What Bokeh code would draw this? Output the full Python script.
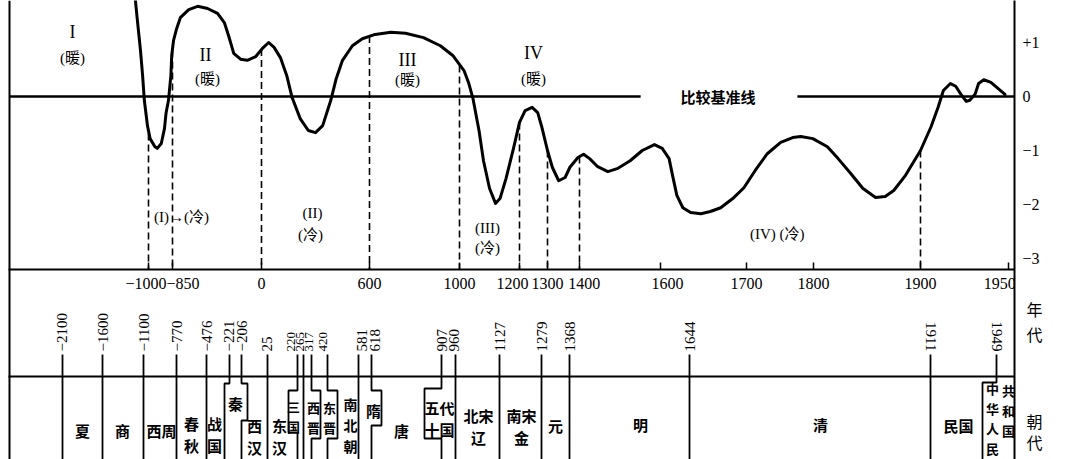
import numpy as np
from bokeh.plotting import figure
from bokeh.models import Range1d, LinearAxis, FixedTicker, CustomJSTickFormatter, ColumnDataSource
from bokeh.core.properties import value
from bokeh.embed import file_html
from bokeh.resources import INLINE

# ---------------- data: temperature anomaly curve (year, deg C) ----------------
YEARS = [-1200, -1160, -1115, -1085, -1060, -1015, -990, -960, -945, -920, -900, -890, -875, -860, -855,
         -840, -810, -775, -695, -610, -515, -420, -355, -315, -265, -200, -135, -55, 5, 40, 70, 105,
         140, 170, 215, 260, 300, 340, 385, 415, 450, 505, 560, 625, 695, 760, 840, 915, 970, 1015,
         1030, 1045, 1065, 1080, 1100, 1120, 1135, 1155, 1180, 1200, 1220, 1245, 1265, 1280, 1300,
         1315, 1335, 1355, 1370, 1395, 1410, 1425, 1445, 1470, 1495, 1525, 1555, 1585, 1602, 1610,
         1614, 1619, 1626, 1635, 1647, 1658, 1670, 1684, 1697, 1713, 1731, 1751, 1769, 1781, 1799,
         1813, 1823, 1835, 1846, 1858, 1867, 1875, 1886, 1900, 1906, 1910, 1913, 1917, 1920, 1923,
         1926, 1928, 1931, 1933, 1936, 1940, 1944, 1948]
TEMPS = [1.93, 1.41, 0.85, 0.39, -0.07, -0.54, -0.78, -0.93, -0.96, -0.87, -0.59, -0.30, -0.07, 0.39, 0.76,
         1.04, 1.26, 1.46, 1.61, 1.67, 1.63, 1.54, 1.37, 1.13, 0.80, 0.69, 0.67, 0.74, 0.89, 1.00, 0.91, 0.72,
         0.39, -0.02, -0.41, -0.63, -0.67, -0.54, -0.07, 0.33, 0.67, 0.94, 1.07, 1.15, 1.19, 1.17, 1.09, 0.94, 0.76, 0.48,
         0.26, -0.04, -0.63, -1.19, -1.70, -1.98, -1.89, -1.52, -0.96, -0.48, -0.26, -0.20, -0.30, -0.57, -1.00,
         -1.31, -1.56, -1.50, -1.31, -1.13, -1.07, -1.15, -1.30, -1.39, -1.33, -1.19, -1.00, -0.89, -0.96, -1.15,
         -1.46, -1.83, -2.06, -2.15, -2.17, -2.13, -2.06, -1.89, -1.69, -1.37, -1.06, -0.85, -0.76, -0.74, -0.78,
         -0.93, -1.15, -1.43, -1.70, -1.87, -1.85, -1.74, -1.46, -1.00, -0.56, -0.20, 0.11, 0.24, 0.19, 0.04,
         -0.09, -0.07, 0.04, 0.24, 0.31, 0.26, 0.15, 0.04]

# non-linear time scale of the original figure (anchor years -> position)
SCALE_YEARS = [-3000, -1000, -850, 0, 600, 1000, 1200, 1300, 1400, 1600, 1700, 1800, 1900, 1950, 1953]
SCALE_POS = [9, 148, 172, 261, 369, 459, 519, 547, 579, 660, 746, 813, 920, 1008, 1014]

AXIS_TICK_YEARS = [-1000, -850, 0, 600, 1000, 1200, 1300, 1400, 1600, 1700, 1800, 1900, 1950]
AXIS_LABELS = ["\u22121000\u2212850", "0", "600", "1000", "1200", "1300", "1400", "1600", "1700", "1800", "1900", "1950"]
AXIS_LABEL_AT = [-912, 0, 600, 1000, 1177, 1300, 1412, 1608, 1700, 1800, 1900, 1945]
DASHED_YEARS = [-1000, -850, 0, 600, 1000, 1200, 1300, 1400, 1900]
BASELINE_GAP = (1551, 1776)

TEMP_TICKS = [1, 0, -1, -2, -3]
TEMP_LABELS = ["+1", "0", "\u22121", "\u22122", "\u22123"]

TOP_TEXT = ["I", "(暖)", "II", "(暖)", "(I)→(冷)", "(II)", "(冷)", "III", "(暖)", "IV", "(暖)", "(III)", "(冷)", "(IV) (冷)"]
TOP_YEAR = [-2095, -2095, -535, -515, -765, 283, 272, 769, 769, 1250, 1250, 1093, 1093, 1746]
TOP_TEMP = [1.19, 0.72, 0.76, 0.33, -2.24, -2.15, -2.57, 0.67, 0.30, 0.80, 0.33, -2.43, -2.80, -2.54]
TOP_SIZE = ["18px", "15px", "18px", "15px", "15px", "15px", "15px", "18px", "15px", "18px", "15px", "15px", "15px", "15px"]

# dynasties (schematic band)
DYNASTY_YEARS = [-2100, -1600, -1100, -770, -476, -221, -206, 25, 220, 265, 317, 420, 581, 618, 907, 960,
                 1127, 1279, 1368, 1644, 1911, 1949]
DYNASTY_YEAR_TEXT = ["\u22122100", "\u22121600", "\u22121100", "\u2212770", "\u2212476", "\u2212221", "\u2212206",
                     "25", "220", "265", "317", "420", "581", "618", "907", "960", "1127", "1279", "1368",
                     "1644", "1911", "1949"]
BAND_X = [62, 102, 143, 176, 206, 229, 241, 267, 297, 303, 311, 327, 358, 371, 441, 455, 499, 541, 569, 689, 930, 996]
LABEL_SHIFT = [-1, 0, 0, 0, 0, -1, 0, -1, -7, -4, -3, -5, 3, 3, 0, -2, 0, 0, 0, 0, 0, 0]
STEPS = {-221: [(383, -5)], -206: [(383, 6), (420, 0)], 220: [(390, -9), (432, 0)],
         317: [(390, 9), (438, 0)], 420: [(390, 10), (438, 0)], 618: [(390, 10), (425, 0)],
         907: [(388, -17), (438, 0)], 1949: [(382, -14)]}

NAMES = ["夏", "商", "西周", "春\n秋", "战\n国", "秦", "西\n汉", "东\n汉", "三\n国", "西\n晋", "东\n晋", "南\n北\n朝",
         "隋", "唐", "五代\n十国", "北宋\n辽", "南宋\n金", "元", "明", "清", "民国", "中\n华\n人\n民", "共\n和\n国"]
NAME_X = [82, 122, 161, 191, 214, 235, 254, 279, 293, 313, 329, 350, 373, 401, 439, 478, 521, 555, 640, 820, 958, 992, 1008]
NAME_Y = [430, 430, 430, 434, 434, 403, 436, 436, 416, 417, 417, 424, 410, 430, 418, 426, 426, 425, 424, 424, 425, 418, 410]
NAME_SIZE = ["15px"] * 8 + ["13px", "13px", "13px", "14px"] + ["15px"] * 9 + ["13px", "13px"]

RIGHT_TITLES = ["年", "代", "朝", "代"]
RIGHT_TITLE_Y = [310, 335, 422, 443]

SERIF = "Liberation Serif, Noto Sans CJK SC"
CJK = "Noto Sans CJK SC"

# ---------------- figure ----------------
TOP, BOT = 0, 459
T_TOP, T_BOT = (96 - TOP) / 54.0, (96 - BOT) / 54.0


def X(years):
    return np.interp(np.asarray(years, dtype=float), SCALE_YEARS, SCALE_POS)


def band_to_temp(y):
    return T_TOP + (y - TOP) * (T_BOT - T_TOP) / (BOT - TOP)


p = figure(width=1080, height=459, x_range=Range1d(0, 1014), y_range=Range1d(T_BOT, T_TOP),
           x_axis_type=None, y_axis_type=None, toolbar_location=None, output_backend="svg",
           min_border_left=0, min_border_right=66, min_border_top=0, min_border_bottom=0,
           outline_line_color=None, background_fill_color="white", border_fill_color="white")
p.extra_y_ranges = {"band": Range1d(BOT, TOP)}
p.grid.visible = False

# right temperature axis (also draws the right border)
vals = [float(v) for v in TEMP_TICKS] + [float(band_to_temp(y)) for y in RIGHT_TITLE_Y]
labs = TEMP_LABELS + ["\u00a0" + t for t in RIGHT_TITLES]
fmt = CustomJSTickFormatter(args=dict(vals=vals, labs=labs), code="""
for (let i = 0; i < vals.length; i++) { if (Math.abs(tick - vals[i]) < 1e-6) return labs[i]; }
return "";
""")
ax = LinearAxis(ticker=FixedTicker(ticks=vals), formatter=fmt, axis_line_width=2, axis_line_color="black",
                major_tick_in=0, major_tick_out=0, minor_tick_in=0, minor_tick_out=0,
                major_label_standoff=8, major_label_text_font=SERIF, major_label_text_font_size="16px",
                major_label_text_color="black")
p.add_layout(ax, "right")

# borders / frame lines (band coordinates = page pixels)
p.segment(x0=[9], y0=[TOP], x1=[9], y1=[BOT], y_range_name="band", line_color="black", line_width=2)
p.segment(x0=[8, 8], y0=[269, 376], x1=[1014, 1014], y1=[269, 376], y_range_name="band",
          line_color="black", line_width=2)

# baseline (comparison line)
p.multi_line(xs=[list(X([SCALE_YEARS[0], BASELINE_GAP[0]])), list(X([BASELINE_GAP[1], SCALE_YEARS[-1]]))],
             ys=[[0, 0], [0, 0]], line_color="black", line_width=2.5)
p.text(x=X([1667]), y=[0.0], text=["比较基准线"], text_font=value(CJK), text_font_style="bold",
       text_font_size="15px", text_align="center", text_baseline="middle", text_color="black")

# dashed guide lines
dy = np.interp(DASHED_YEARS, YEARS, TEMPS)
p.segment(x0=X(DASHED_YEARS), y0=dy, x1=X(DASHED_YEARS), y1=[band_to_temp(269)] * len(DASHED_YEARS),
          line_color="black", line_width=1.6, line_dash="7 4")

# temperature curve
p.line(X(YEARS), TEMPS, line_color="black", line_width=3, line_join="round", line_cap="round")

# time axis ticks and labels
tx = X(AXIS_TICK_YEARS)
p.segment(x0=tx, y0=[269] * len(tx), x1=tx, y1=[262] * len(tx), y_range_name="band", line_color="black", line_width=1.5)
p.text(x=X(AXIS_LABEL_AT), y=[283] * len(AXIS_LABELS), text=AXIS_LABELS, y_range_name="band",
       text_font=value("Liberation Serif"), text_font_size="16px", text_align="center", text_baseline="middle",
       text_color="black")

# period labels
src_top = ColumnDataSource(dict(x=X(TOP_YEAR), y=TOP_TEMP, t=TOP_TEXT, s=TOP_SIZE))
p.text(x="x", y="y", text="t", source=src_top, text_font=value(SERIF), text_font_size="s",
       text_align="center", text_baseline="middle", text_color="black")

# dynasty boundaries
xs, ys = [], []
for yr, bx in zip(DYNASTY_YEARS, BAND_X):
    lx, ly, cur = [bx], [354], 0
    for (yy, dx) in STEPS.get(yr, []):
        lx += [bx + cur, bx + dx]
        ly += [yy, yy]
        cur = dx
    lx.append(bx + cur)
    ly.append(BOT + 10)
    xs.append(lx)
    ys.append(ly)
p.multi_line(xs=xs, ys=ys, y_range_name="band", line_color="black", line_width=1.8)

# dynasty year labels (rotated)
lab_x = [bx + s for bx, s in zip(BAND_X, LABEL_SHIFT)]
up = [i for i, y in enumerate(DYNASTY_YEARS) if y < 1900]
dn = [i for i, y in enumerate(DYNASTY_YEARS) if y >= 1900]
sizes = ["13px" if DYNASTY_YEARS[i] in (220, 265, 317, 420) else "15px" for i in up]
src_up = ColumnDataSource(dict(x=[lab_x[i] for i in up], y=[351] * len(up), t=[DYNASTY_YEAR_TEXT[i] for i in up], s=sizes))
p.text(x="x", y="y", text="t", source=src_up, y_range_name="band", angle=np.pi / 2,
       text_font=value("Liberation Serif"), text_font_size="s", text_align="left", text_baseline="middle",
       text_color="black")
p.text(x=[lab_x[i] for i in dn], y=[351] * len(dn), text=[DYNASTY_YEAR_TEXT[i] for i in dn], y_range_name="band",
       angle=-np.pi / 2, text_font=value("Liberation Serif"), text_font_size="15px", text_align="right",
       text_baseline="middle", text_color="black")

# dynasty names
src_n = ColumnDataSource(dict(x=NAME_X, y=NAME_Y, t=NAMES, s=NAME_SIZE))
p.text(x="x", y="y", text="t", source=src_n, y_range_name="band", text_font=value(CJK), text_font_style="bold",
       text_font_size="s", text_align="center", text_baseline="middle", text_line_height=1.05, text_color="black")

open("out.html", "w").write(file_html(p, INLINE))
